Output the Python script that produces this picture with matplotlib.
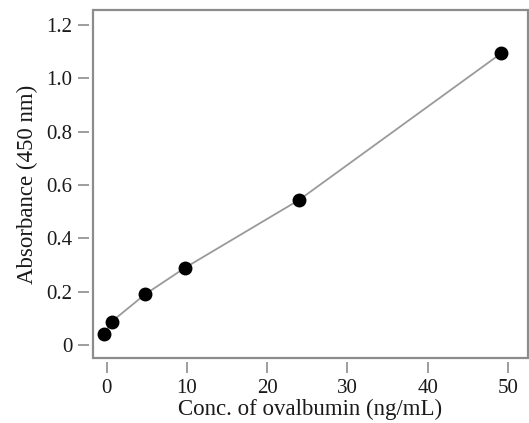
import matplotlib
matplotlib.use("Agg")
import matplotlib.pyplot as plt
from matplotlib.patches import Rectangle

# Data
conc = [-0.3, 0.6, 4.8, 9.8, 24.0, 49.2]
absorbance = [0.041, 0.087, 0.190, 0.290, 0.544, 1.094]
x_ticks = [0, 10, 20, 30, 40, 50]
y_ticks = [0, 0.2, 0.4, 0.6, 0.8, 1.0, 1.2]
y_tick_labels = ["0", "0.2", "0.4", "0.6", "0.8", "1.0", "1.2"]

plt.rcParams['font.family'] = ['Liberation Serif', 'DejaVu Serif']

fig = plt.figure(figsize=(5.29, 4.23), dpi=100)
ax = fig.add_axes([0.1758, 0.1537, 0.822, 0.8227])

ax.plot(conc, absorbance, '-', color='#9a9a9a', lw=1.3, zorder=2,
        solid_joinstyle='round')
ax.plot(conc, absorbance, 'o', color='black', ms=9, zorder=3)

ax.set_xlim(-1.71, 52.5)
ax.set_ylim(-0.049, 1.256)
ax.set_xticks(x_ticks)
ax.set_yticks(y_ticks)
ax.set_yticklabels(y_tick_labels)

for s in ['top', 'right']:
    ax.spines[s].set_visible(False)
for s in ['left', 'bottom']:
    ax.spines[s].set_position(('outward', 3))
    ax.spines[s].set_color('none')

ax.add_patch(Rectangle((0, 0), 1, 1, transform=ax.transAxes, fill=False,
                       edgecolor='#8c8c8c', lw=1.6, clip_on=False, zorder=5))

ax.tick_params(axis='both', direction='out', length=8, width=1.2,
               color='#8c8c8c', labelsize=15, labelcolor='#1a1a1a', pad=4)

ax.set_xlabel('Conc. of ovalbumin (ng/mL)', fontsize=16.5, color='#1a1a1a', labelpad=1)
ax.set_ylabel('Absorbance (450 nm)', fontsize=16.5, color='#1a1a1a', labelpad=6)

fig.savefig('out.png', dpi=100, facecolor='white')
